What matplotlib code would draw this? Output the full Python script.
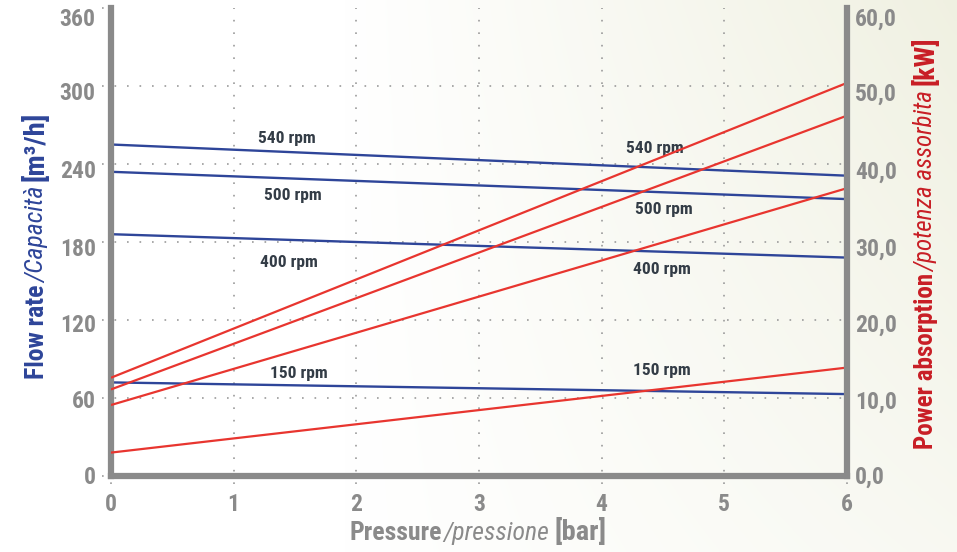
import numpy as np
import matplotlib
matplotlib.use("Agg")
import matplotlib.pyplot as plt
from matplotlib import font_manager as fm
from matplotlib.transforms import ScaledTranslation

# ---- data ----
pressure = [0, 6]                               # bar
rpm_names = ["540 rpm", "500 rpm", "400 rpm", "150 rpm"]
flow = {"540 rpm": [255, 231],                  # m3/h, left axis
        "500 rpm": [234, 213],
        "400 rpm": [186, 168],
        "150 rpm": [72, 63]}
power = {"540 rpm": [12.6, 50.4],               # kW, right axis
         "500 rpm": [11.1, 46.2],
         "400 rpm": [9.1, 36.9],
         "150 rpm": [3.0, 13.9]}
# label anchors (pressure, flow-scale value)
flow_lbl = {"540 rpm": (1.43, 260), "500 rpm": (1.48, 216),
            "400 rpm": (1.45, 164), "150 rpm": (1.53, 78.5)}
power_lbl = {"540 rpm": (4.43, 252), "500 rpm": (4.51, 205),
             "400 rpm": (4.49, 158.5), "150 rpm": (4.49, 80.8)}

x_ticks = [0, 1, 2, 3, 4, 5, 6]
flow_ticks = [0, 60, 120, 180, 240, 300, 360]
power_ticks = [0, 10, 20, 30, 40, 50, 60]
# the printed tick labels sit slightly below their grid lines (pixels)
label_drop = [-1, 1.5, 2.5, 4.5, 5.5, 5.5, 9]

BLUE = "#2e4599"
RED = "#e8352f"
RED_LBL = "#c81e25"
GREY = "#8a8a8a"
DARK = "#333c46"


def pick_font(names):
    for n in names:
        try:
            fm.findfont(fm.FontProperties(family=n), fallback_to_default=False)
            return n
        except ValueError:
            pass
    return "DejaVu Sans"


FONT = pick_font(["Roboto Condensed", "Liberation Sans Narrow",
                  "Open Sans Condensed", "DejaVu Sans"])
plt.rcParams["font.family"] = [FONT, "DejaVu Sans"]

W, H = 957, 552
fig = plt.figure(figsize=(W / 100, H / 100), dpi=100)
fig.patch.set_facecolor("white")

# background wash: white on the left, pale cream towards the top right
bg = fig.add_axes([0, 0, 1, 1], zorder=-10)
u, v = np.meshgrid(np.linspace(0, 1, 240), np.linspace(1, 0, 140))
t = np.clip(u * 1.25 - 0.45, 0, 1) * (0.45 + 0.55 * v)
t = np.clip(t, 0, 1)
c0 = np.array([1.0, 1.0, 1.0])
c1 = np.array([0.925, 0.929, 0.855])
img = c0[None, None, :] * (1 - t[..., None]) + c1[None, None, :] * t[..., None]
bg.imshow(img, aspect="auto", extent=[0, 1, 0, 1], interpolation="bilinear")
bg.axis("off")

# plot area in pixels: x 111..847, y 8..476 from top
ax = fig.add_axes([111 / W, (H - 476) / H, 736 / W, 468 / H])
ax.patch.set_alpha(0)
ax.set_xlim(0, 6)
ax.set_ylim(0, 360)
ax2 = ax.twinx()
ax2.set_ylim(0, 60)

# dotted grid, with short stubs outside the frame like the reference
dot = dict(color="#9b9b9b", lw=1.2, ls=(0, (1, 6.5)), zorder=1)
for xv in x_ticks:
    ax.axvline(xv, ymin=-0.018, ymax=1, clip_on=False, **dot)
for yv in flow_ticks:
    xmax = 1 if 0 < yv < 360 else 0
    ax.axhline(yv, xmin=-0.012, xmax=xmax, clip_on=False, **dot)

for name in rpm_names:
    ax.plot(pressure, flow[name], color=BLUE, lw=1.7, zorder=3,
            solid_capstyle="butt")
    ax2.plot(pressure, power[name], color=RED, lw=1.6, zorder=3,
             solid_capstyle="butt")
    fx, fy = flow_lbl[name]
    ax.text(fx, fy, name, color=DARK, fontsize=12.5, fontweight="bold",
            ha="center", va="center", zorder=4)
    px, py = power_lbl[name]
    ax.text(px, py, name, color=DARK, fontsize=12.5, fontweight="bold",
            ha="center", va="center", zorder=4)

# frame
for a in (ax, ax2):
    for s in a.spines.values():
        s.set_visible(False)
ax.spines["left"].set_visible(True)
ax.spines["bottom"].set_visible(True)
ax2.spines["right"].set_visible(True)
for s in (ax.spines["left"], ax.spines["bottom"], ax2.spines["right"]):
    s.set_color(GREY)
    s.set_linewidth(4.5)
    s.set_zorder(5)

ax.set_xticks(x_ticks)
ax.set_yticks(flow_ticks)
ax2.set_yticks(power_ticks)
ax2.set_yticklabels(["{:.1f}".format(p).replace(".", ",") for p in power_ticks])
ax.tick_params(axis="x", length=0, pad=12, labelsize=17, labelcolor=GREY)
ax.tick_params(axis="y", length=0, pad=11, labelsize=17, labelcolor=GREY)
ax2.tick_params(axis="y", length=0, pad=6, labelsize=17, labelcolor=GREY)
for lab in ax.get_xticklabels() + ax.get_yticklabels() + ax2.get_yticklabels():
    lab.set_fontweight("bold")
for tk, off in zip(ax.yaxis.get_major_ticks(), label_drop):
    tk.label1.set_transform(tk.label1.get_transform()
                            + ScaledTranslation(0, -off / 100, fig.dpi_scale_trans))
for tk, off in zip(ax2.yaxis.get_major_ticks(), label_drop):
    tk.label2.set_transform(tk.label2.get_transform()
                            + ScaledTranslation(0, -off / 100, fig.dpi_scale_trans))


def mixed_label(pieces, centre, baseline, vertical):
    """ Lay out text pieces of different styles one after another. """
    texts = []
    for txt, kw, gap in pieces:
        t = fig.text(0, 0, txt, rotation=90 if vertical else 0,
                     rotation_mode="anchor", ha="left", va="baseline", **kw)
        texts.append((t, gap))
    r = fig.canvas.get_renderer()
    lens = []
    for t, gap in texts:
        bb = t.get_window_extent(renderer=r)
        lens.append((bb.height if vertical else bb.width) + gap)
    pos = centre - sum(lens) / 2
    for (t, gap), ln in zip(texts, lens):
        if vertical:
            t.set_position((baseline / W, pos / H))
        else:
            t.set_position((pos / W, baseline / H))
        pos += ln


mixed_label([("Flow rate", dict(color=BLUE, fontsize=18.5, fontweight="bold"), 1),
             ("/Capacità", dict(color=BLUE, fontsize=18.5, fontstyle="italic"), 6),
             ("[m³/h]", dict(color=BLUE, fontsize=20.5, fontweight="bold"), 0)],
            centre=H - 245, baseline=44, vertical=True)
mixed_label([("Power absorption", dict(color=RED_LBL, fontsize=18, fontweight="bold"), 1),
             ("/potenza assorbita", dict(color=RED_LBL, fontsize=18, fontstyle="italic"), 6),
             ("[kW]", dict(color=RED_LBL, fontsize=20, fontweight="bold"), 0)],
            centre=H - 243, baseline=933, vertical=True)
mixed_label([("Pressure", dict(color=GREY, fontsize=18.5, fontweight="bold"), 1),
             ("/pressione", dict(color=GREY, fontsize=18.5, fontstyle="italic"), 6),
             ("[bar]", dict(color=GREY, fontsize=20.5, fontweight="bold"), 0)],
            centre=478, baseline=H - 540, vertical=False)

fig.savefig("out.png", dpi=100, facecolor=fig.get_facecolor())
